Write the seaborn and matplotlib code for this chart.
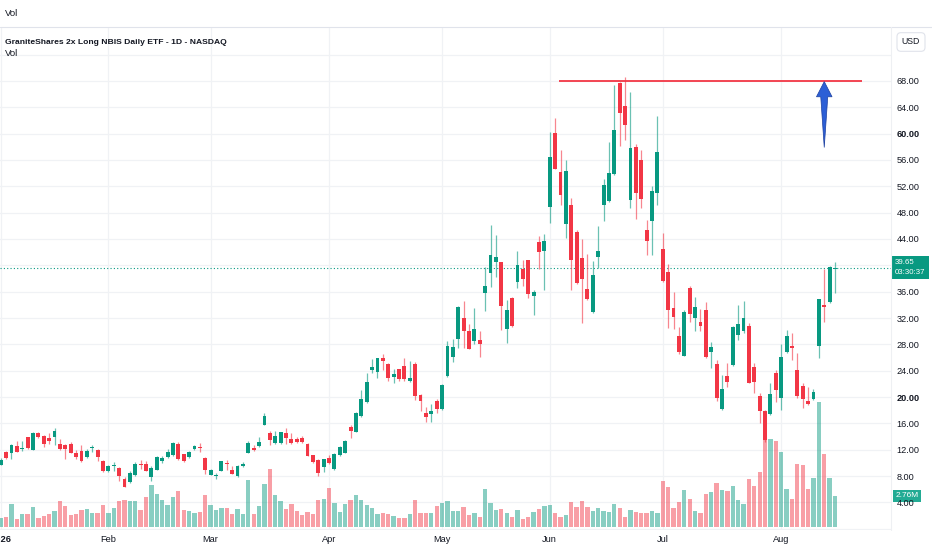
import numpy as np
import pandas as pd
import seaborn as sns
import matplotlib.pyplot as plt
from matplotlib.patches import Polygon
from matplotlib.transforms import blended_transform_factory

# daily candles (price in USD, volume in millions)
opens = [9.7, 11.65, 11.5, 12.5, 12.05, 13.9, 12.0, 14.5, 14.1, 13.8,
         13.9, 12.9, 12.7, 12.8, 11.5, 11.8, 10.9, 12.25, 11.9, 10.35,
         8.7, 9.5, 9.2, 7.5, 7.15, 8.15, 9.9, 9.9, 7.85, 8.95,
         10.3, 10.9, 11.15, 12.8, 11.3, 10.9, 12.15, 12.4, 10.8, 8.2,
         8.0, 8.8, 9.95, 8.95, 7.95, 9.5, 11.55, 12.25, 12.55, 15.8,
         14.55, 13.05, 13.05, 14.55, 13.6, 13.55, 13.75, 12.9, 11.2, 10.5,
         9.35, 10.8, 9.0, 11.2, 11.55, 15.4, 14.75, 17.1, 19.2, 24.15,
         23.85, 25.95, 25.05, 23.05, 24.2, 24.75, 22.4, 24.95, 20.25, 17.6,
         17.45, 19.45, 18.25, 23.15, 26.05, 28.8, 32.0, 29.95, 28.45, 28.6,
         35.85, 38.9, 40.45, 40.45, 30.4, 35.05, 37.45, 39.5, 40.75, 35.35,
         43.55, 42.2, 48.8, 60.05, 54.2, 46.3, 49.1, 45.05, 41.1, 36.45,
         32.85, 41.25, 49.2, 49.7, 53.9, 67.75, 64.2, 49.95, 57.95, 56.0,
         45.4, 46.8, 50.95, 42.55, 39.0, 33.55, 29.2, 26.3, 36.5, 32.0,
         31.4, 33.25, 26.9, 24.95, 18.15, 23.2, 24.9, 29.45, 30.05, 30.85,
         24.55, 20.1, 17.9, 17.45, 23.6, 19.8, 26.85, 27.7, 24.15, 21.7,
         19.45, 19.7, 27.7, 33.95, 34.4, 39.4]
highs = [10.7, 11.8, 12.9, 13.3, 13.3, 13.95, 14.7, 14.7, 14.2, 14.6,
         15.3, 13.6, 12.8, 13.2, 11.9, 12.65, 12.15, 12.65, 12.05, 10.4,
         9.6, 10.1, 9.3, 7.85, 8.7, 10.1, 10.4, 10.3, 9.5, 11.05,
         11.1, 12.15, 13.1, 13.15, 11.4, 11.85, 12.75, 13.0, 10.9, 9.05,
         8.5, 10.35, 10.5, 9.5, 9.6, 10.1, 13.35, 12.7, 14.0, 17.6,
         14.85, 14.85, 14.75, 15.25, 14.5, 13.95, 14.15, 12.95, 11.25, 10.6,
         10.65, 11.2, 11.5, 12.55, 13.45, 15.7, 17.7, 21.0, 23.7, 25.7,
         26.0, 26.6, 25.15, 24.3, 24.3, 25.95, 25.5, 25.25, 20.4, 18.5,
         18.95, 19.75, 22.05, 28.55, 28.8, 33.85, 34.6, 31.1, 33.5, 30.05,
         39.8, 46.15, 44.6, 40.55, 34.75, 35.15, 42.2, 40.85, 40.85, 36.3,
         44.5, 44.7, 60.3, 62.45, 57.5, 56.0, 50.2, 45.4, 44.0, 41.75,
         40.7, 45.9, 53.1, 58.8, 67.4, 67.9, 68.65, 66.4, 58.45, 57.5,
         46.9, 52.05, 62.7, 44.9, 40.2, 36.0, 30.7, 33.25, 36.9, 35.2,
         33.35, 34.4, 28.4, 25.65, 23.4, 25.15, 30.8, 34.0, 34.6, 31.2,
         25.15, 20.6, 18.05, 22.1, 24.1, 28.0, 30.15, 29.7, 26.65, 22.1,
         21.5, 21.2, 34.9, 39.4, 39.9, 40.45]
lows = [9.6, 10.6, 10.6, 11.6, 11.8, 12.1, 11.9, 13.7, 12.4, 12.8,
        12.7, 11.9, 10.6, 11.5, 10.6, 10.1, 10.8, 11.65, 10.25, 8.6,
        8.6, 8.7, 7.25, 6.3, 7.0, 8.05, 9.0, 8.7, 7.25, 8.85,
        10.05, 10.75, 11.0, 10.5, 10.15, 10.8, 11.9, 11.65, 8.35, 8.1,
        7.5, 8.7, 8.95, 8.3, 7.9, 9.4, 11.45, 11.8, 12.4, 15.7,
        12.65, 12.9, 12.9, 12.9, 12.9, 12.95, 12.95, 11.0, 10.0, 8.0,
        8.6, 9.9, 8.9, 11.1, 11.5, 13.8, 14.7, 17.0, 19.1, 23.6,
        22.9, 24.1, 22.4, 22.15, 22.5, 22.4, 22.25, 19.6, 17.9, 16.2,
        16.25, 17.6, 18.1, 23.05, 25.3, 27.4, 27.4, 27.25, 28.1, 26.05,
        33.0, 36.7, 38.2, 30.2, 28.2, 30.7, 36.5, 36.8, 35.0, 32.5,
        39.4, 36.3, 46.4, 54.6, 49.2, 44.1, 36.3, 37.15, 31.3, 34.75,
        32.75, 39.6, 46.8, 49.55, 53.75, 58.15, 59.05, 48.65, 47.0, 48.65,
        41.6, 41.6, 49.2, 37.4, 30.45, 30.3, 26.6, 26.3, 31.45, 29.95,
        29.95, 25.9, 24.4, 19.35, 18.05, 21.5, 24.75, 28.7, 29.7, 22.1,
        20.65, 16.0, 13.1, 17.3, 19.25, 18.05, 26.7, 25.65, 19.85, 18.35,
        18.8, 19.6, 25.85, 31.4, 34.25, 35.8]
closes = [10.5, 10.8, 12.75, 11.7, 12.2, 12.2, 14.5, 13.9, 12.9, 13.3,
          14.8, 12.15, 12.05, 11.55, 10.9, 10.25, 11.75, 12.4, 10.9, 8.7,
          9.5, 9.6, 8.05, 6.35, 8.5, 9.9, 9.6, 8.8, 9.15, 10.85,
          10.8, 11.65, 13.0, 10.55, 10.25, 11.7, 12.5, 12.25, 8.95, 8.95,
          8.2, 10.25, 9.75, 8.35, 9.5, 9.8, 13.05, 11.9, 13.15, 17.05,
          13.4, 14.05, 14.7, 13.7, 13.0, 13.15, 13.15, 11.1, 10.1, 8.4,
          10.55, 10.0, 11.4, 12.35, 13.3, 14.9, 17.6, 19.75, 22.35, 24.6,
          25.9, 25.45, 22.9, 23.5, 22.7, 22.75, 22.95, 20.1, 19.45, 16.95,
          17.9, 18.2, 21.8, 27.8, 27.6, 33.6, 30.05, 27.3, 30.35, 28.05,
          36.9, 41.6, 41.3, 33.75, 33.15, 30.85, 40.1, 37.95, 35.65, 36.0,
          41.95, 43.7, 56.5, 54.7, 50.7, 54.3, 40.85, 37.3, 38.0, 34.9,
          38.6, 42.2, 52.2, 54.0, 60.55, 63.1, 61.3, 57.8, 51.05, 50.05,
          43.75, 51.3, 57.2, 37.6, 33.15, 32.2, 26.8, 32.85, 32.6, 33.7,
          30.85, 26.05, 27.65, 19.8, 21.25, 22.35, 30.7, 31.1, 32.0, 22.2,
          22.25, 17.8, 13.4, 20.5, 21.0, 26.05, 29.2, 27.4, 20.2, 19.7,
          18.9, 20.8, 34.9, 33.6, 39.7, 39.65]
volumes = [0.83, 0.89, 2.08, 0.71, 1.13, 1.19, 1.78, 0.83, 0.98, 1.13,
           1.39, 2.28, 1.84, 1.07, 1.13, 1.48, 1.57, 1.28, 1.28, 1.93,
           1.28, 1.69, 2.28, 2.37, 2.28, 2.28, 1.48, 2.64, 3.77, 2.91,
           2.43, 1.99, 2.64, 3.23, 1.48, 1.39, 1.28, 1.34, 2.85, 1.93,
           1.48, 1.69, 1.69, 1.13, 1.57, 1.13, 4.15, 1.13, 1.84, 3.80,
           5.19, 2.85, 2.28, 1.63, 2.06, 1.42, 1.04, 1.31, 1.13, 2.43,
           2.49, 3.44, 2.14, 1.34, 2.05, 2.43, 2.85, 2.43, 1.93, 1.66,
           1.19, 1.28, 1.19, 0.95, 0.83, 0.83, 1.19, 2.43, 1.28, 1.28,
           1.28, 1.87, 2.15, 2.30, 1.42, 1.42, 1.78, 1.07, 1.22, 0.92,
           3.38, 2.17, 1.51, 1.57, 1.28, 0.86, 1.51, 0.71, 0.92, 1.36,
           1.60, 1.90, 1.96, 1.22, 0.92, 1.07, 2.23, 1.81, 2.31, 1.81,
           1.42, 1.72, 1.42, 1.36, 2.08, 1.66, 0.92, 1.51, 1.36, 1.28,
           1.28, 1.42, 1.28, 4.09, 3.53, 1.66, 2.23, 3.29, 2.46, 1.42,
           1.28, 2.91, 3.12, 3.89, 3.29, 3.23, 3.62, 2.43, 2.08, 4.27,
           3.68, 4.90, 7.80, 7.80, 7.65, 6.65, 3.38, 2.52, 5.61, 5.55,
           3.38, 4.33, 11.13, 6.50, 4.33, 2.76]

holidays = ["2026-01-19", "2026-02-16", "2026-04-03", "2026-05-25",
            "2026-06-19", "2026-07-03"]
price_ticks = [4, 8, 12, 16, 20, 24, 28, 32, 36, 44, 48, 52, 56, 60, 64, 68]
bold_ticks = [20, 60]

title = "GraniteShares 2x Long NBIS Daily ETF - 1D - NASDAQ"
last_time = "03:30:37"
resistance = 68.05
resistance_from, resistance_to = 103.8, 160
arrow_x, arrow_from, arrow_to = 153, 57.9, 67.9

UP, DOWN = "#089981", "#f23645"
TXT = "#131722"

dates = pd.bdate_range("2026-01-02", periods=len(closes), freq="C", holidays=holidays)
df = pd.DataFrame({"date": dates, "open": opens, "high": highs, "low": lows,
                   "close": closes, "volume": volumes})
df["idx"] = np.arange(len(df))
df["dir"] = np.where(df["close"] >= df["open"], "up", "down")

sns.set_style("white")
plt.rcParams["font.family"] = ["Liberation Sans", "DejaVu Sans"]

W, H = 932, 550
fig = plt.figure(figsize=(W / 100, H / 100), dpi=100)
top_px, bot_px, right_px = 27, 530, 891
rect = [0, 1 - bot_px / H, right_px / W, (bot_px - top_px) / H]
ax_vol = fig.add_axes(rect)
ax = fig.add_axes(rect, sharex=ax_vol)
ax.patch.set_visible(False)

# volume pane (bottom layer)
sns.barplot(data=df, x="idx", y="volume", hue="dir", palette={"up": UP, "down": DOWN},
            native_scale=True, dodge=False, width=0.8, saturation=1, alpha=0.48,
            linewidth=0, errorbar=None, legend=False, ax=ax_vol)
ax_vol.set_ylim(-0.27, 44.5)

ax.set_xlim(-0.13, 165.4)
ax.set_ylim(-0.2, 76.2)

# grid behind everything
grid_tf = blended_transform_factory(ax_vol.transAxes, ax.transData)
for lvl in range(0, 76, 4):
    ax_vol.plot([0, 1], [lvl, lvl], transform=grid_tf, color="#f0f2f5", lw=0.9, zorder=0)
month_idx = df.groupby(df["date"].dt.month)["idx"].min()
for i in month_idx.values:
    ax_vol.axvline(i, color="#f0f2f5", lw=0.9, zorder=0)

# candles
colors = np.where(df["dir"] == "up", UP, DOWN)
ax.vlines(df["idx"], df["low"], df["high"], colors=colors, lw=0.9, alpha=0.6, zorder=2)
body_lo = np.minimum(df["open"], df["close"])
body_h = np.maximum((df["close"] - df["open"]).abs(), 0.12)
ax.bar(df["idx"], body_h, bottom=body_lo, width=0.72, color=colors, linewidth=0, zorder=3)

# last price line
last = df["close"].iloc[-1]
ax.axhline(last, color=UP, lw=0.8, linestyle=(0, (1, 2)), zorder=1)

# resistance line and arrow
ax.hlines(resistance, resistance_from, resistance_to, color=DOWN, lw=1.3, zorder=4)
head_len, head_half, shaft_half = 2.3, 1.45, 0.65
arrow_pts = [(arrow_x, arrow_from),
             (arrow_x - shaft_half, arrow_to - head_len),
             (arrow_x - head_half, arrow_to - head_len),
             (arrow_x, arrow_to),
             (arrow_x + head_half, arrow_to - head_len),
             (arrow_x + shaft_half, arrow_to - head_len)]
ax.add_patch(Polygon(arrow_pts, closed=True, fc="#2c5fd6", ec="#1d409f", lw=0.5, zorder=5))

# axes cosmetics
for a in (ax, ax_vol):
    for s in a.spines.values():
        s.set_visible(False)
ax_vol.set_yticks([])
ax_vol.set_xlabel("")
ax_vol.set_ylabel("")
ax_vol.tick_params(axis="x", length=0, labelbottom=False)

ax.yaxis.tick_right()
ax.set_yticks(price_ticks)
ax.set_yticklabels([f"{t:.2f}" for t in price_ticks])
for lab, t in zip(ax.get_yticklabels(), price_ticks):
    if t in bold_ticks:
        lab.set_fontweight("bold")
ax.tick_params(axis="y", length=0, pad=4, labelsize=6.6, labelcolor=TXT)

xlabels = ["2026" if m == 1 else pd.Timestamp(2026, m, 1).strftime("%b") for m in month_idx.index]
ax.set_xticks(month_idx.values)
ax.set_xticklabels(xlabels)
ax.get_xticklabels()[0].set_fontweight("bold")
ax.tick_params(axis="x", length=0, pad=3.5, labelsize=6.7, labelcolor=TXT)

# price / volume badges on the scale
ax.annotate(f"{last:.2f}\n{last_time}", xy=(1, last), xycoords=("axes fraction", "data"),
            xytext=(3, 6.0), textcoords="offset points", ha="left", va="top",
            color="white", fontsize=5.7, linespacing=1.5,
            bbox=dict(boxstyle="square,pad=0.4", fc=UP, ec="none"), annotation_clip=False)
last_vol = df["volume"].iloc[-1]
ax_vol.annotate(f"{last_vol:.2f}M", xy=(1, last_vol), xycoords=("axes fraction", "data"),
                xytext=(3, 0), textcoords="offset points", ha="left", va="center",
                color="white", fontsize=6.0,
                bbox=dict(boxstyle="square,pad=0.25", fc="#22ab94", ec="none"), annotation_clip=False)

# header texts and pane separators
fig.text(5 / W, 1 - 13 / H, "Vol", fontsize=6.8, color=TXT, va="center")
fig.text(5 / W, 1 - 42 / H, title, fontsize=6.1, color=TXT, va="center", fontweight="bold")
fig.text(5 / W, 1 - 54 / H, "Vol", fontsize=6.8, color=TXT, va="center")
fig.text(911 / W, 1 - 42 / H, "USD", fontsize=6.3, color=TXT, ha="center", va="center",
         bbox=dict(boxstyle="round,pad=0.55,rounding_size=0.45", fc="white", ec="#e0e3eb", lw=0.8))
fig.add_artist(plt.Line2D([0, 1], [1 - top_px / H] * 2, color="#e0e3eb", lw=0.8))
fig.add_artist(plt.Line2D([right_px / W] * 2, [1 - bot_px / H, 1 - top_px / H], color="#eef0f3", lw=0.8))

fig.savefig("out.png", dpi=100, facecolor="white")
